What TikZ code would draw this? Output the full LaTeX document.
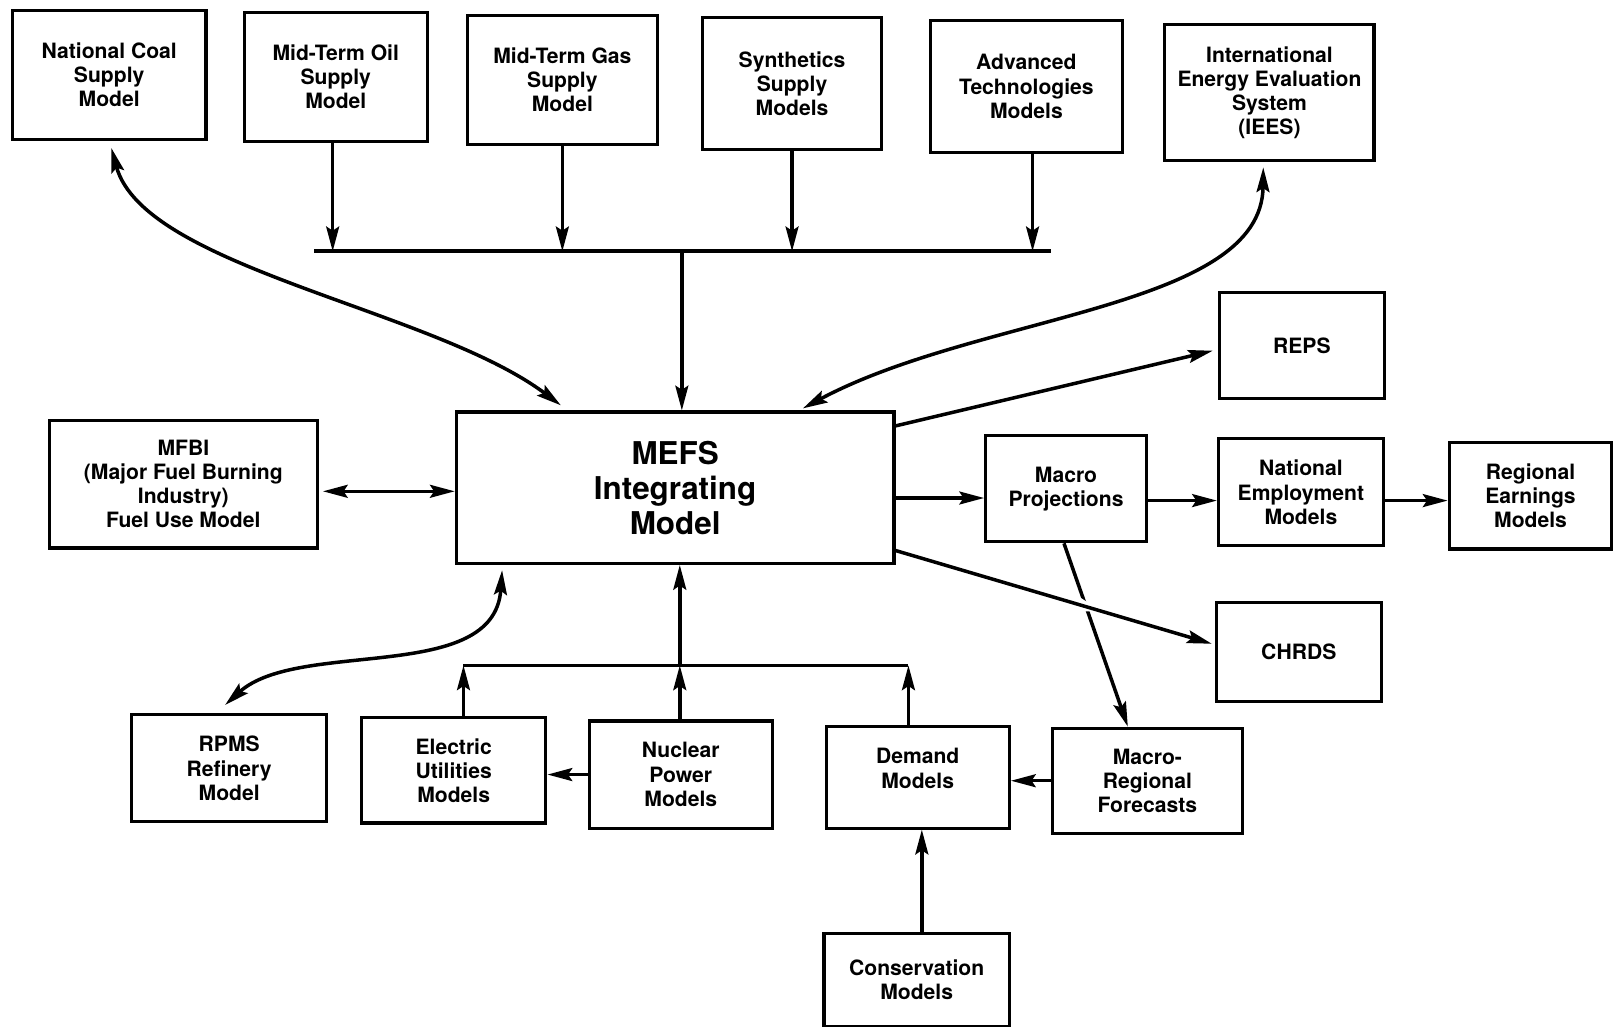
\documentclass[tikz,border=0pt]{standalone}
\usepackage{fontspec}
\setmainfont{TeX Gyre Heros}
\usetikzlibrary{arrows.meta,calc}
\begin{document}
\begin{tikzpicture}[x=1pt,y=-1pt,
  box/.style={draw,line width=3pt,inner sep=0pt,align=center,font=\fontsize{20.5}{23.5}\selectfont\bfseries},
  txt/.style={inner sep=0pt,align=center,font=\fontsize{20.5}{23.5}\selectfont\bfseries},
  arr/.style={line width=3.4pt,-{Stealth[length=24pt,width=12.5pt,inset=4pt]}},
  darr/.style={line width=3.4pt,{Stealth[length=24pt,width=12.5pt,inset=4pt]}-{Stealth[length=24pt,width=12.5pt,inset=4pt]}},
  busline/.style={line width=3.6pt}]
\useasboundingbox (0,0) rectangle (1568,997);

% top row
\node[box,minimum width=188pt,minimum height=125pt] (coal) at (106,72.5) {National Coal\\Supply\\Model};
\node[box,minimum width=178pt,minimum height=125pt] (oil) at (326,74.5) {Mid-Term Oil\\Supply\\Model};
\node[box,minimum width=184pt,minimum height=125pt] (gas) at (546,77.5) {Mid-Term Gas\\Supply\\Model};
\node[box,minimum width=174pt,minimum height=128pt] (syn) at (769,81) {Synthetics\\Supply\\Models};
\node[box,minimum width=187pt,minimum height=128pt] (adv) at (996.5,84) {Advanced\\Technologies\\Models};
\node[box,minimum width=203pt,minimum height=132pt] (iees) at (1232.5,90) {International\\Energy Evaluation\\System\\(IEES)};

% middle
\node[box,minimum width=260pt,minimum height=124pt] (mfbi) at (178,470) {MFBI\\(Major Fuel Burning\\Industry)\\Fuel Use Model};
\node[box,minimum width=425pt,minimum height=147pt,font=\fontsize{30.5}{34}\selectfont\bfseries] (mefs) at (655.5,473.5) {MEFS\\Integrating\\Model};
\node[box,minimum width=160pt,minimum height=103pt] (reps) at (1264,335.5) {REPS};
\node[box,minimum width=156pt,minimum height=103pt] (macro) at (1035,474.5) {Macro\\Projections};
\node[box,minimum width=160pt,minimum height=104pt] (natemp) at (1263,478) {National\\Employment\\Models};
\node[box,minimum width=158pt,minimum height=103pt] (regearn) at (1486,481.5) {Regional\\Earnings\\Models};
\node[box,minimum width=160pt,minimum height=96pt] (chrds) at (1261,633) {CHRDS};

% bottom
\node[box,minimum width=189pt,minimum height=104pt] (rpms) at (222.5,746) {RPMS\\Refinery\\Model};
\node[box,minimum width=179pt,minimum height=102pt] (elec) at (440.5,748) {Electric\\Utilities\\Models};
\node[box,minimum width=178pt,minimum height=104pt] (nuc) at (661,752) {Nuclear\\Power\\Models};
\node[box,minimum width=178pt,minimum height=99pt] (demand) at (891,754.5) {};
\node[txt] (demandtxt) at (891,746) {Demand\\Models};
\node[box,minimum width=184pt,minimum height=102pt] (macroreg) at (1114,758) {Macro-\\Regional\\Forecasts};
\node[box,minimum width=180pt,minimum height=91pt] (cons) at (890,951.5) {Conservation\\Models};

% top bus
\coordinate (tbL) at (305,244);
\coordinate (tbR) at (1020,244);
\coordinate (tbM) at (662,244);
\draw[busline] (tbL) -- (tbR);
\draw[arr] ([xshift=-3pt]oil.south) -- ([xshift=-3pt]oil.south |- tbL);
\draw[arr] (gas.south) -- (gas.south |- tbL);
\draw[arr] (syn.south) -- (syn.south |- tbL);
\draw[arr] ([xshift=6pt]adv.south) -- ([xshift=6pt]adv.south |- tbL);
\draw[arr] (tbM) -- (tbM |- mefs.north);

% bottom bus
\coordinate (bbL) at (450,646);
\coordinate (bbR) at (882,646);
\coordinate (bbM) at (660,646);
\draw[busline] (bbL) -- (bbR);
\draw[arr] (bbL |- elec.north) -- (bbL);
\draw[arr] (bbM |- nuc.north) -- (bbM);
\draw[arr] (bbR |- demand.north) -- (bbR);
\draw[arr] (bbM) -- (bbM |- mefs.south);

% curved double arrows
\draw[darr] ([xshift=2pt,yshift=-7pt]coal.south) .. controls (140,260) and (420,300) .. ([xshift=-111pt,yshift=5pt]mefs.north);
\draw[darr] ([xshift=-6pt,yshift=-5pt]iees.south) .. controls (1225,300) and (950,305) .. ([xshift=124pt,yshift=2pt]mefs.north);
\draw[darr] ([xshift=-168pt,yshift=-5pt]mefs.south) .. controls (480,665) and (290,620) .. ([xshift=-4pt,yshift=8pt]rpms.north);

% horizontal links
\draw[darr] ([xshift=4pt,yshift=-7pt]mfbi.east) -- ([yshift=-7pt]mfbi.east -| mefs.west);
\draw[arr] ([yshift=-10pt]mefs.east) -- ([yshift=-10pt]mefs.east -| macro.west);
\draw[arr] ([yshift=-11.5pt]macro.east) -- ([yshift=-11.5pt]macro.east -| natemp.west);
\draw[arr] ([yshift=-8pt]natemp.east) -- ([yshift=-8pt]natemp.east -| regearn.west);
\draw[arr] (nuc.west) -- (nuc.west -| elec.east);
\draw[arr] (macroreg.west) -- (macroreg.west -| demand.east);
\draw[arr] ([xshift=5pt]cons.north) -- ([xshift=5pt]cons.north |- demand.south);

% diagonal links
\draw[arr] ([xshift=-2pt]macro.south) -- ([xshift=-19pt]macroreg.north);
\draw[arr] ([yshift=-15pt]mefs.north east) -- ([xshift=-5pt,yshift=-5pt]reps.west);
\draw[arr,preaction={draw,white,line width=9pt,shorten <=172pt,shorten >=110pt}] ([yshift=14pt]mefs.south east) -- ([xshift=-3pt,yshift=8pt]chrds.west);
\end{tikzpicture}
\end{document}
